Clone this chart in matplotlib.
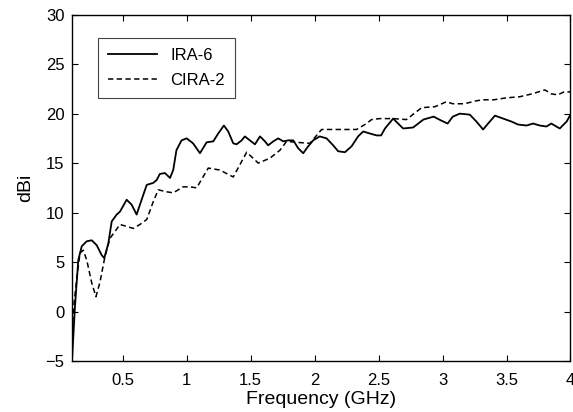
import numpy as np
import matplotlib
matplotlib.use('Agg')
import matplotlib.pyplot as plt

# IRA-6 (solid)
ira_f = [0.100, 0.110, 0.127, 0.153, 0.180, 0.219, 0.258, 0.297, 0.336, 0.356,
         0.388, 0.414, 0.453, 0.479, 0.531, 0.570, 0.609, 0.648, 0.688, 0.739,
         0.766, 0.790, 0.830, 0.870, 0.895, 0.920, 0.960, 1.000, 1.050, 1.104,
         1.156, 1.208, 1.247, 1.291, 1.325, 1.364, 1.390, 1.430, 1.455, 1.494,
         1.534, 1.573, 1.612, 1.637, 1.677, 1.716, 1.755, 1.794, 1.833, 1.872,
         1.911, 1.950, 1.989, 2.040, 2.094, 2.145, 2.184, 2.237, 2.289, 2.340,
         2.380, 2.430, 2.484, 2.520, 2.550, 2.614, 2.653, 2.692, 2.770, 2.850,
         2.930, 2.990, 3.040, 3.080, 3.135, 3.213, 3.265, 3.317, 3.356, 3.410,
         3.474, 3.539, 3.590, 3.656, 3.708, 3.760, 3.812, 3.850, 3.916, 3.970,
         4.000]
ira_db = [-6.0, -3.5, 0.5, 5.2, 6.6, 7.1, 7.2, 6.7, 5.7, 5.4,
          6.9, 9.1, 9.8, 10.1, 11.3, 10.8, 9.8, 11.3, 12.8, 13.0,
          13.3, 13.9, 14.0, 13.5, 14.3, 16.3, 17.3, 17.5, 17.0, 16.0,
          17.1, 17.2, 18.0, 18.8, 18.2, 17.0, 16.9, 17.3, 17.7, 17.3,
          16.9, 17.7, 17.2, 16.8, 17.2, 17.5, 17.2, 17.3, 17.3, 16.5,
          16.0, 16.7, 17.3, 17.7, 17.5, 16.8, 16.2, 16.1, 16.7, 17.7,
          18.2, 18.0, 17.8, 17.8, 18.5, 19.5, 19.0, 18.5, 18.6, 19.4,
          19.7, 19.3, 19.0, 19.7, 20.0, 19.9, 19.2, 18.4, 19.0, 19.8,
          19.5, 19.2, 18.9, 18.8, 19.0, 18.8, 18.7, 19.0, 18.5, 19.2,
          19.9]

# CIRA-2 (dashed)
cira_f = [0.100, 0.114, 0.140, 0.166, 0.192, 0.219, 0.258, 0.291, 0.323, 0.362,
          0.401, 0.440, 0.479, 0.531, 0.583, 0.635, 0.688, 0.739, 0.778, 0.844,
          0.895, 0.973, 1.026, 1.078, 1.169, 1.260, 1.364, 1.469, 1.560, 1.651,
          1.729, 1.781, 1.859, 1.963, 2.055, 2.145, 2.328, 2.406, 2.445, 2.510,
          2.614, 2.718, 2.836, 2.940, 3.030, 3.080, 3.170, 3.265, 3.317, 3.400,
          3.500, 3.600, 3.700, 3.800, 3.850, 3.900, 3.950, 4.000]
cira_db = [-5.5, 0.2, 3.2, 5.9, 6.2, 5.2, 2.9, 1.5, 3.0, 5.6,
           7.4, 8.1, 8.8, 8.6, 8.4, 8.8, 9.3, 11.1, 12.3, 12.1,
           12.0, 12.6, 12.6, 12.5, 14.5, 14.3, 13.6, 16.1, 15.0, 15.5,
           16.3, 17.2, 17.1, 17.0, 18.4, 18.4, 18.4, 19.0, 19.4, 19.5,
           19.5, 19.4, 20.6, 20.7, 21.2, 21.0, 21.0, 21.3, 21.4, 21.4,
           21.6, 21.7, 22.0, 22.4, 22.0, 21.9, 22.2, 22.2]

xticks = [0.5, 1, 1.5, 2, 2.5, 3, 3.5, 4]
xtick_labels = ['0.5', '1', '1.5', '2', '2.5', '3', '3.5', '4']
yticks = [-5, 0, 5, 10, 15, 20, 25, 30]

plt.rcParams['font.family'] = ['Liberation Sans', 'DejaVu Sans']

fig = plt.figure(figsize=(5.73, 4.12), dpi=100)
ax = fig.add_axes([0.1248, 0.1238, 0.8708, 0.8405])

ax.plot(ira_f, ira_db, color='black', linewidth=1.3, label='IRA-6')
ax.plot(cira_f, cira_db, color='black', linewidth=1.1, linestyle='--',
        dashes=(3.5, 2.2), label='CIRA-2')

ax.set_xlim(0.1, 4)
ax.set_ylim(-5, 30)
ax.set_xticks(xticks)
ax.set_xticklabels(xtick_labels)
ax.set_yticks(yticks)
ax.tick_params(direction='in', top=True, right=True, labelsize=12, length=4,
               width=0.8, pad=5)
ax.tick_params(axis='x', pad=9)
for s in ax.spines.values():
    s.set_linewidth(1.0)

ax.set_xlabel('Frequency (GHz)', fontsize=14, labelpad=2)
ax.set_ylabel('dBi', fontsize=14, labelpad=8)

leg = ax.legend(loc='upper left', bbox_to_anchor=(0.054, 0.934), borderaxespad=0,
                fontsize=12, fancybox=False, handlelength=2.9, framealpha=1,
                borderpad=0.6, labelspacing=0.6)
leg.get_frame().set_edgecolor('#444444')
leg.get_frame().set_linewidth(0.8)

fig.savefig('out.png', dpi=100)
